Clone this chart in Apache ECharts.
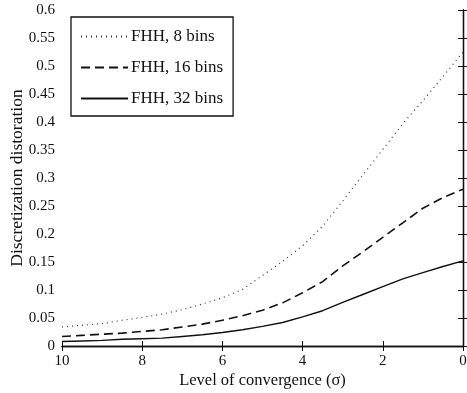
<!DOCTYPE html>
<html>
<head>
<meta charset="utf-8">
<script src="https://cdn.jsdelivr.net/npm/echarts@6/dist/echarts.min.js"></script>
<style>
  html, body { margin: 0; padding: 0; background: #fff; }
  #chart { width: 467px; height: 393px; }
</style>
</head>
<body>
<div id="chart"></div>
<script>
// Level of convergence (sigma), plotted from 10 down to 0
const sigma = [10, 9.5, 9, 8.5, 8, 7.5, 7, 6.5, 6, 5.5, 5, 4.5, 4, 3.5, 3, 2.5, 2, 1.5, 1, 0.5, 0];

// Discretization distortion per histogram resolution
const bins8  = [0.034, 0.037, 0.040, 0.046, 0.051, 0.057, 0.065, 0.075, 0.086, 0.101, 0.126, 0.151, 0.179, 0.214, 0.259, 0.305, 0.351, 0.397, 0.438, 0.481, 0.525];
const bins16 = [0.017, 0.019, 0.021, 0.023, 0.026, 0.029, 0.034, 0.039, 0.046, 0.054, 0.064, 0.077, 0.095, 0.115, 0.143, 0.168, 0.194, 0.220, 0.246, 0.265, 0.280];
const bins32 = [0.008, 0.009, 0.010, 0.012, 0.013, 0.014, 0.017, 0.020, 0.024, 0.029, 0.035, 0.042, 0.052, 0.063, 0.078, 0.092, 0.106, 0.120, 0.131, 0.142, 0.152];

const seriesNames = ['FHH, 8 bins', 'FHH, 16 bins', 'FHH, 32 bins'];

const FONT = 'Liberation Serif';
const pair = (xs, ys) => xs.map((x, i) => [x, ys[i]]);

const axisLine = { show: true, lineStyle: { color: '#111', width: 1.3 } };
const tickIn = { show: true, inside: true, length: 5, lineStyle: { color: '#111', width: 1 } };

const chart = echarts.init(document.getElementById('chart'), null, { renderer: 'canvas' });
chart.setOption({
  animation: false,
  backgroundColor: '#fff',
  textStyle: { fontFamily: FONT },
  grid: { left: 62, right: 4, top: 10, bottom: 47, containLabel: false, outerBoundsMode: 'none' },
  xAxis: [
    {
      type: 'value', min: 0, max: 10, interval: 2, inverse: true, position: 'bottom',
      name: 'Level of convergence (σ)', nameLocation: 'middle', nameGap: 26, nameMoveOverlap: false,
      nameTextStyle: { fontFamily: FONT, fontSize: 16.5, color: '#111', verticalAlign: 'top' },
      axisLine: axisLine, axisTick: tickIn, splitLine: { show: false },
      axisLabel: { color: '#111', fontFamily: FONT, fontSize: 15, margin: 8 }
    },
    {
      type: 'value', min: 0, max: 10, interval: 2, inverse: true, position: 'top',
      axisLine: axisLine, axisTick: tickIn, splitLine: { show: false },
      axisLabel: { show: false }
    }
  ],
  yAxis: [
    {
      type: 'value', min: 0, max: 0.6, interval: 0.05, position: 'left',
      name: 'Discretization distoration', nameLocation: 'middle', nameGap: 36, nameMoveOverlap: false,
      nameTextStyle: { fontFamily: FONT, fontSize: 17.5, color: '#111' },
      axisLine: axisLine, axisTick: tickIn, splitLine: { show: false },
      axisLabel: { color: '#111', fontFamily: FONT, fontSize: 15, margin: 7 }
    },
    {
      type: 'value', min: 0, max: 0.6, interval: 0.05, position: 'right',
      axisLine: axisLine, axisTick: tickIn, splitLine: { show: false },
      axisLabel: { show: false }
    }
  ],
  legend: {
    orient: 'vertical', left: 71, top: 17,
    data: seriesNames,
    itemWidth: 47, itemHeight: 14, itemGap: 14,
    padding: [11, 10, 9, 9],
    borderColor: '#111', borderWidth: 1.3, backgroundColor: '#fff',
    itemStyle: { opacity: 0 },
    textStyle: { fontFamily: FONT, fontSize: 17, color: '#111', padding: [0, 0, 0, -2] }
  },
  series: [
    {
      name: seriesNames[0], type: 'line', data: pair(sigma, bins8),
      showSymbol: false, symbol: 'none', smooth: false,
      lineStyle: { color: '#333', width: 1.2, type: [1, 4] },
      itemStyle: { color: '#333' }
    },
    {
      name: seriesNames[1], type: 'line', data: pair(sigma, bins16),
      showSymbol: false, symbol: 'none', smooth: false,
      lineStyle: { color: '#111', width: 1.6, type: [9, 5] },
      itemStyle: { color: '#111' }
    },
    {
      name: seriesNames[2], type: 'line', data: pair(sigma, bins32),
      showSymbol: false, symbol: 'none', smooth: false,
      lineStyle: { color: '#111', width: 1.4, type: 'solid' },
      itemStyle: { color: '#111' }
    }
  ]
});
</script>
</body>
</html>
